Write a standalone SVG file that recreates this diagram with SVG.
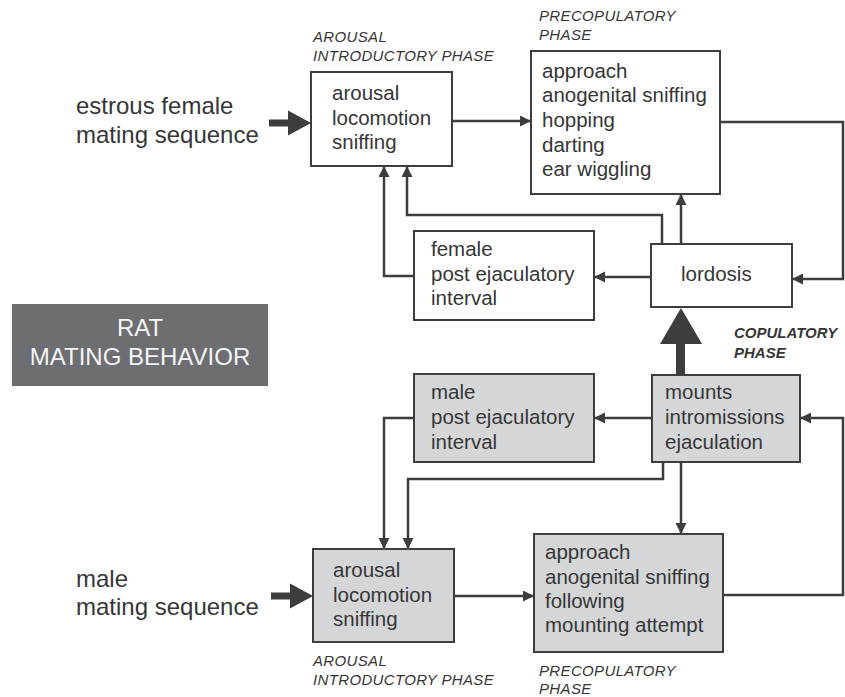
<svg xmlns="http://www.w3.org/2000/svg" width="845" height="697" viewBox="0 0 845 697">
<style>
  text { font-family: "Liberation Sans", Arial, Helvetica, sans-serif; fill: #363636; }
  .t { font-size: 20.5px; }
  .big { font-size: 24px; }
  .lab { font-size: 15px; font-style: italic; letter-spacing: 0.35px; }
  .labb { font-size: 15px; font-style: italic; font-weight: bold; }
  .box { fill: #ffffff; stroke: #3d3d3d; stroke-width: 2; }
  .gbox { fill: #d5d6d8; stroke: #3d3d3d; stroke-width: 2; }
  .c { fill: none; stroke: #3d3d3d; stroke-width: 2.5; marker-end: url(#ah); }
  .title { font-size: 24px; fill: #f4f4f4; text-anchor: middle; }
</style>
<defs>
  <marker id="ah" markerUnits="userSpaceOnUse" markerWidth="12" markerHeight="12" refX="11" refY="5.5" orient="auto">
    <path d="M0,0 L11,5.5 L0,11 z" fill="#3d3d3d"/>
  </marker>
</defs>

<rect width="845" height="697" fill="#ffffff"/>

<g id="title">
  <rect x="12" y="304" width="256" height="82" fill="#6d6e71"/>
  <text class="title" x="140" y="336">RAT</text>
  <text class="title" x="140" y="365">MATING BEHAVIOR</text>
</g>

<g id="female-label">
  <text class="big" x="76" y="114">estrous female</text>
  <text class="big" x="76" y="143">mating sequence</text>
</g>
<g id="male-label">
  <text class="big" x="76" y="587">male</text>
  <text class="big" x="76" y="615">mating sequence</text>
</g>

<g id="phase-labels">
  <text class="lab" x="313" y="42">AROUSAL</text>
  <text class="lab" x="313" y="61">INTRODUCTORY PHASE</text>
  <text class="lab" x="539" y="21">PRECOPULATORY</text>
  <text class="lab" x="539" y="40">PHASE</text>
  <text class="labb" x="734" y="338">COPULATORY</text>
  <text class="labb" x="734" y="358">PHASE</text>
  <text class="lab" x="313" y="666">AROUSAL</text>
  <text class="lab" x="313" y="685">INTRODUCTORY PHASE</text>
  <text class="lab" x="539" y="676">PRECOPULATORY</text>
  <text class="lab" x="539" y="694">PHASE</text>
</g>

<g id="f-arousal">
  <rect class="box" x="311" y="72" width="141" height="94"/>
  <text class="t" x="332" y="100">arousal</text>
  <text class="t" x="332" y="124.5">locomotion</text>
  <text class="t" x="332" y="149">sniffing</text>
</g>

<g id="f-precop">
  <rect class="box" x="531" y="51" width="189" height="143"/>
  <text class="t" x="542" y="77.5">approach</text>
  <text class="t" x="542" y="102">anogenital sniffing</text>
  <text class="t" x="542" y="127">hopping</text>
  <text class="t" x="542" y="151.5">darting</text>
  <text class="t" x="542" y="176">ear wiggling</text>
</g>

<g id="f-pei">
  <rect class="box" x="414" y="231" width="180" height="89"/>
  <text class="t" x="431" y="256">female</text>
  <text class="t" x="431" y="280.5">post ejaculatory</text>
  <text class="t" x="431" y="305">interval</text>
</g>

<g id="lordosis">
  <rect class="box" x="651" y="244" width="141" height="63"/>
  <text class="t" x="681" y="281">lordosis</text>
</g>

<g id="m-pei">
  <rect class="gbox" x="414" y="374" width="180" height="88"/>
  <text class="t" x="431" y="399">male</text>
  <text class="t" x="431" y="424">post ejaculatory</text>
  <text class="t" x="431" y="448.5">interval</text>
</g>

<g id="copulation">
  <rect class="gbox" x="652" y="375" width="148" height="87"/>
  <text class="t" x="665" y="399">mounts</text>
  <text class="t" x="665" y="424">intromissions</text>
  <text class="t" x="665" y="448.5">ejaculation</text>
</g>

<g id="m-arousal">
  <rect class="gbox" x="313" y="549" width="141" height="93"/>
  <text class="t" x="333" y="577">arousal</text>
  <text class="t" x="333" y="601.5">locomotion</text>
  <text class="t" x="333" y="626">sniffing</text>
</g>

<g id="m-precop">
  <rect class="gbox" x="534" y="534" width="189" height="118"/>
  <text class="t" x="545" y="558.5">approach</text>
  <text class="t" x="545" y="583.5">anogenital sniffing</text>
  <text class="t" x="545" y="608">following</text>
  <text class="t" x="545" y="632">mounting attempt</text>
</g>

<g id="connectors">
  <rect x="269" y="119.5" width="21" height="7" fill="#3d3d3d"/>
  <polygon points="288,110.5 311,123 288,135.5" fill="#3d3d3d"/>
  <rect x="271" y="592.5" width="21" height="7" fill="#3d3d3d"/>
  <polygon points="290,583.5 313,596 290,608.5" fill="#3d3d3d"/>

  <path class="c" d="M452,121 H531"/>
  <path class="c" d="M720,122 H843 V279 H792"/>
  <path class="c" d="M651,277 H594"/>
  <path class="c" d="M414,276 H384 V166"/>
  <path class="c" d="M662,244 V215 H407 V166"/>
  <path class="c" d="M681,244 V194"/>

  <rect x="676" y="342" width="9" height="33" fill="#3d3d3d"/>
  <polygon points="660,344 681,308 702,344" fill="#3d3d3d"/>

  <path class="c" d="M652,418 H594"/>
  <path class="c" d="M414,418 H384 V549"/>
  <path class="c" d="M663,462 V479 H408 V549"/>
  <path class="c" d="M681,462 V534"/>
  <path class="c" d="M454,596 H534"/>
  <path class="c" d="M723,595 H843 V418 H800"/>
</g>
</svg>
